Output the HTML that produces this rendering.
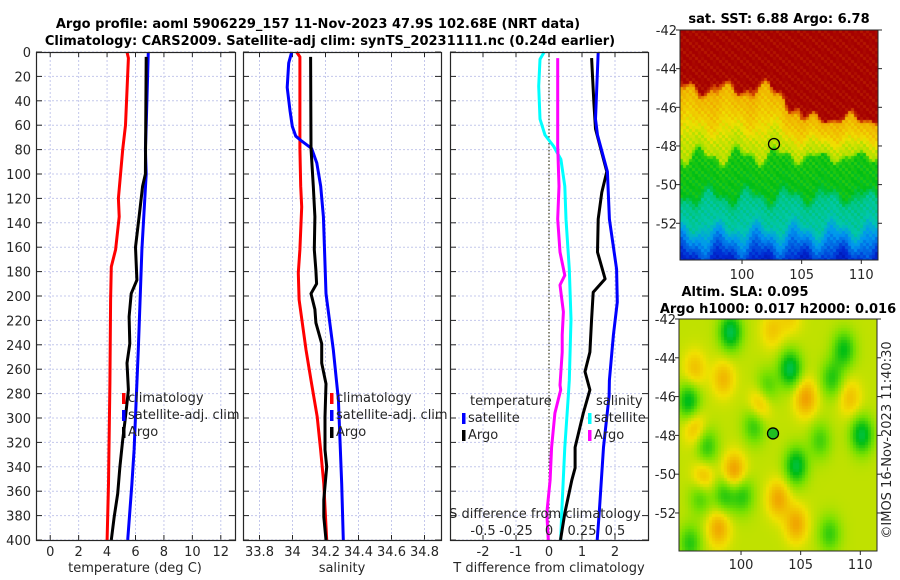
<!DOCTYPE html>
<html><head><meta charset="utf-8">
<style>
body{margin:0;background:#fff;}
#wrap{position:relative;width:900px;height:580px;overflow:hidden;background:#fff;font-family:"DejaVu Sans","Liberation Sans",sans-serif;}
svg text{font-family:"DejaVu Sans","Liberation Sans",sans-serif;}
canvas{position:absolute;}
</style></head>
<body>
<div id="wrap">
<canvas id="sst" width="198" height="230" style="left:680px;top:30px;"></canvas>
<canvas id="sla" width="198" height="232" style="left:679px;top:319px;"></canvas>
<svg id="svg" width="900" height="580" style="position:absolute;left:0;top:0"></svg>
</div>
<script>
// ---- data ----
const tClimDepth=[0,5,60,80,120,135,162,176,203,272,354,400];
const tClimVal=[5.4,5.5,5.3,5.1,4.8,4.85,4.6,4.3,4.25,4.2,4.1,4.0];
const tSatDepth=[0,60,80,100,162,244,326,354,400];
const tSatVal=[6.9,6.75,6.7,6.75,6.45,6.2,5.9,5.75,5.45];
const tArgoDepth=[4,100,110,135,160,187,198,217,239,255,277,299,318,340,362,381,400];
const tArgoVal=[6.75,6.7,6.5,6.25,6.0,6.1,5.7,5.55,5.6,5.4,5.5,5.3,5.1,4.9,4.75,4.5,4.3];
const sClimDepth=[0,4,79,110,127,162,181,203,244,272,299,326,354,400];
const sClimVal=[34.025,34.045,34.045,34.05,34.056,34.045,34.035,34.04,34.082,34.116,34.15,34.17,34.19,34.207];
const sSatDepth=[0,9,29,48,61,69,73,79,91,110,135,198,244,285,354,400];
const sSatVal=[33.995,33.977,33.968,33.985,33.999,34.02,34.056,34.116,34.147,34.171,34.187,34.203,34.247,34.278,34.298,34.308];
const sArgoDepth=[4,79,110,135,162,179,190,198,211,222,239,255,272,299,326,340,367,381,400];
const sArgoVal=[34.11,34.112,34.126,34.136,34.132,34.142,34.146,34.112,34.136,34.142,34.177,34.177,34.203,34.197,34.197,34.207,34.19,34.19,34.203];
const dTSatDepth=[0,55,68,98,137,178,205,232,269,282,324,378,400];
const dTSatVal=[1.49,1.41,1.47,1.77,1.83,2.05,2.07,1.95,1.83,1.82,1.65,1.52,1.46];
const dTArgoDepth=[5,42,63,98,115,137,164,186,197,219,246,262,277,296,324,341,351,378,400];
const dTArgoVal=[1.29,1.36,1.41,1.75,1.6,1.49,1.47,1.7,1.34,1.29,1.24,1.09,1.24,1.04,0.79,0.79,0.69,0.48,0.35];
const dSSatDepth=[0,6,28,55,68,77,88,110,137,178,219,269,282,324,378,400];
const dSSatVal=[-0.036,-0.068,-0.078,-0.068,-0.03,0.033,0.09,0.12,0.129,0.154,0.167,0.154,0.146,0.12,0.096,0.089];
const dSArgoDepth=[5,77,110,137,164,183,191,213,232,246,273,277,296,324,351,378,400];
const dSArgoVal=[0.066,0.066,0.076,0.066,0.083,0.12,0.083,0.109,0.1,0.1,0.083,0.089,0.045,0.02,0.008,-0.017,-0.005];
const depthTicks=[0,20,40,60,80,100,120,140,160,180,200,220,240,260,280,300,320,340,360,380,400];
const tTicks=[0,2,4,6,8,10,12];
const sTicks=[33.8,34,34.2,34.4,34.6,34.8];
const dTicks=[-2,-1,0,1,2];
const dSTicks=[-0.5,-0.25,0,0.25,0.5];
const dSTickLabels=["-0.5","-0.25","0","0.25","0.5"];
const slaLon=[99,104,95.5,110,101,104.5,98.5,96.5,100,99.3,105.3,101.5,96,98,103,104.5,102,107.5,107.3,96.7,96,98.4,109,95.6,102.5,104,108.5,97,106.5];
const slaLat=[-42.6,-44.5,-46.2,-47.9,-47.4,-49.5,-51,-51,-51,-49.8,-46,-46.3,-47.5,-52.7,-51.2,-52.5,-45.5,-45,-53,-50.2,-44.5,-45,-46,-53.5,-42.5,-41.8,-43.5,-48.5,-48.2];
const slaAmp=[-1.6,-1.6,-1.4,-1.5,-1,-1.5,-1,-1,-1,1.2,1.1,1.0,0.8,1.0,1.0,1.0,-0.9,-1,-0.9,1,0.7,0.8,0.7,-1,0.6,0.5,-1.2,-1,-0.8];

// ---- helpers ----
const NS="http://www.w3.org/2000/svg";
const svg=document.getElementById('svg');
function mk(tag,attrs,parent){const e=document.createElementNS(NS,tag);for(const k in attrs)e.setAttribute(k,attrs[k]);(parent||svg).appendChild(e);return e;}
function txt(x,y,s,opt){const e=mk('text',Object.assign({x:x,y:y,'font-size':13,fill:'#262626'},opt||{}));e.textContent=s;return e;}
const Y0=52,Y1=540;
const yD=d=>Y0+(d/400)*(Y1-Y0);
function panel(x0,x1,xmin,xmax,name){
  const xs=v=>x0+(v-xmin)/(xmax-xmin)*(x1-x0);
  const g=mk('g',{});
  
  
  return {x0,x1,xs,g};
}
function grid(p,ticks){
  ticks.forEach(t=>{const x=p.xs(t);const l=mk('line',{x1:x,x2:x,y1:Y0,y2:Y1,stroke:'#c4c8ec','stroke-width':1,'stroke-dasharray':'2,2'},p.g);
    
    mk('line',{x1:x,x2:x,y1:Y1,y2:Y1-5,stroke:'#262626'},p.g);mk('line',{x1:x,x2:x,y1:Y0,y2:Y0+5,stroke:'#262626'},p.g);});
  depthTicks.forEach(d=>{const y=yD(d);const l=mk('line',{x1:p.x0,x2:p.x1,y1:y,y2:y,stroke:'#c4c8ec','stroke-width':1,'stroke-dasharray':'2,2'},p.g);
    
    mk('line',{x1:p.x0,x2:p.x0+6,y1:y,y2:y,stroke:'#262626'},p.g);mk('line',{x1:p.x1,x2:p.x1-6,y1:y,y2:y,stroke:'#262626'},p.g);});
}
function frame(p){const r=mk('rect',{x:p.x0+0.5,y:Y0+0.5,width:p.x1-p.x0,height:Y1-Y0,fill:'none',stroke:'#262626','stroke-width':1.2},p.g);
  }
function line(p,depths,vals,xs,color,name){
  const pts=depths.map((d,i)=>xs(vals[i]).toFixed(1)+','+yD(d).toFixed(1)).join(' ');
  const l=mk('polyline',{points:pts,fill:'none',stroke:color,'stroke-width':3,'stroke-linejoin':'round'},p.g);
  
}
function legendEntry(p,x,y,color,label,name){
  mk('rect',{x:x,y:y-9,width:3.5,height:11,fill:color},p.g);
  const t=txt(x+6,y,label,{});
  p.g.appendChild(t);
  
}

let t1=txt(318,28,'Argo profile: aoml 5906229_157 11-Nov-2023 47.9S 102.68E (NRT data)',{'font-weight':'bold','text-anchor':'middle',fill:'#000'});

let t2=txt(330,45,'Climatology: CARS2009. Satellite-adj clim: synTS_20231111.nc (0.24d earlier)',{'font-weight':'bold','text-anchor':'middle',fill:'#000'});


const p1=panel(36,235,-1,13,'temperature-panel');
grid(p1,tTicks);
line(p1,tClimDepth,tClimVal,p1.xs,'#ff0000','temp-climatology-line');
line(p1,tSatDepth,tSatVal,p1.xs,'#0000ff','temp-satellite-line');
line(p1,tArgoDepth,tArgoVal,p1.xs,'#000000','temp-argo-line');
frame(p1);
depthTicks.forEach(d=>{const t=txt(31,yD(d)+5,String(d),{'text-anchor':'end'});});
tTicks.forEach(v=>{const t=txt(p1.xs(v),556,String(v),{'text-anchor':'middle'});});
let xt1=txt(135,572,'temperature (deg C)',{'text-anchor':'middle'});
legendEntry(p1,122,402,'#ff0000','climatology','legend-climatology');
legendEntry(p1,122,419,'#0000ff','satellite-adj. clim','legend-satellite-adj');
legendEntry(p1,122,436,'#000000','Argo','legend-argo');

const p2=panel(243,441,33.7,34.9,'salinity-panel');
grid(p2,sTicks);
line(p2,sClimDepth,sClimVal,p2.xs,'#ff0000','sal-climatology-line');
line(p2,sSatDepth,sSatVal,p2.xs,'#0000ff','sal-satellite-line');
line(p2,sArgoDepth,sArgoVal,p2.xs,'#000000','sal-argo-line');
frame(p2);
sTicks.forEach(v=>{const t=txt(p2.xs(v),556,String(v),{'text-anchor':'middle'});});
let xt2=txt(342,572,'salinity',{'text-anchor':'middle'});
legendEntry(p2,330,402,'#ff0000','climatology','legend-climatology');
legendEntry(p2,330,419,'#0000ff','satellite-adj. clim','legend-satellite-adj');
legendEntry(p2,330,436,'#000000','Argo','legend-argo');

const p3=panel(450,648,-3,3,'difference-panel');
const xsS=v=>p3.xs(v*4);
grid(p3,dTicks);
let zl=mk('line',{x1:p3.xs(0),x2:p3.xs(0),y1:Y0,y2:Y1,stroke:'#404020','stroke-width':1.2,'stroke-dasharray':'1.5,2'},p3.g);

line(p3,dSSatDepth,dSSatVal,xsS,'#00ffff','sdiff-satellite-line');
line(p3,dSArgoDepth,dSArgoVal,xsS,'#ff00ff','sdiff-argo-line');
line(p3,dTArgoDepth,dTArgoVal,p3.xs,'#000000','tdiff-argo-line');
line(p3,dTSatDepth,dTSatVal,p3.xs,'#0000ff','tdiff-satellite-line');
frame(p3);
dTicks.forEach(v=>{const t=txt(p3.xs(v),556,String(v),{'text-anchor':'middle'});});
let xt3=txt(549,572,'T difference from climatology',{'text-anchor':'middle'});
let st=txt(545,518,'S difference from climatology',{'text-anchor':'middle'});
dSTicks.forEach((v,i)=>{const t=txt(xsS(v),535,dSTickLabels[i],{'text-anchor':'middle'});});
let lt=txt(470,405,'temperature',{});
legendEntry(p3,462,422,'#0000ff','satellite','legend-t-satellite');
legendEntry(p3,462,439,'#000000','Argo','legend-t-argo');
let ls=txt(596,405,'salinity',{});
legendEntry(p3,588,422,'#00ffff','satellite','legend-s-satellite');
legendEntry(p3,588,439,'#ff00ff','Argo','legend-s-argo');

// ---- maps ----
const latTicks=[-42,-44,-46,-48,-50,-52];
const lonTicks=[100,105,110];
function mapAxes(x0,y0,w,h,lon0,lon1,lat0,lat1,tickY,name){
  const g=mk('g',{});
  const lx=v=>x0+(v-lon0)/(lon1-lon0)*w, ly=v=>y0+(lat1-v)/(lat1-lat0)*h;
  mk('rect',{x:x0,y:y0,width:w,height:h,fill:'none',stroke:'#262626','stroke-width':1},g);
  latTicks.forEach(v=>{const y=ly(v);mk('line',{x1:x0-4,x2:x0,y1:y,y2:y,stroke:'#262626'},g);mk('line',{x1:x0+w,x2:x0+w+4,y1:y,y2:y,stroke:'#262626'},g);
    const t=txt(x0-3,y+5,String(v),{'text-anchor':'end'});g.appendChild(t);});
  lonTicks.forEach(v=>{const x=lx(v);mk('line',{x1:x,x2:x,y1:y0+h,y2:y0+h+4,stroke:'#262626'},g);
    const t=txt(x,tickY,String(v),{'text-anchor':'middle'});g.appendChild(t);});
  return {lx,ly};
}
const m1=mapAxes(680,30,198,230,94.8,111.4,-53.9,-42,279,'sst-map-axes');
const m2=mapAxes(679,319,198,232,94.8,111.4,-53.96,-42,569,'sla-map-axes');
let c1=mk('circle',{cx:m1.lx(102.68),cy:m1.ly(-47.9),r:5.5,fill:'none',stroke:'#000','stroke-width':1.3});

let c2=mk('circle',{cx:m2.lx(102.68),cy:m2.ly(-47.9),r:5.5,fill:'#20c020',stroke:'#000','stroke-width':1.3});

let mt1=txt(779,23,'sat. SST: 6.88 Argo: 6.78',{'font-weight':'bold','text-anchor':'middle',fill:'#000'});
let mt2=txt(745,296,'Altim. SLA: 0.095',{'font-weight':'bold','text-anchor':'middle',fill:'#000'});
let mt3=txt(778,313,'Argo h1000: 0.017 h2000: 0.016',{'font-weight':'bold','text-anchor':'middle',fill:'#000'});
let cr=txt(0,0,'©IMOS 16-Nov-2023 11:40:30',{'text-anchor':'middle',transform:'translate(891,440) rotate(-90)'});

const cmStops=[[0,[0,0,140]],[0.15,[0,40,210]],[0.3,[0,150,240]],[0.42,[0,200,170]],[0.55,[0,190,20]],[0.65,[120,225,0]],[0.75,[240,225,0]],[0.85,[240,160,0]],[0.93,[210,70,0]],[1,[165,0,0]]];
function cmap(v){v=Math.max(0,Math.min(1,v));for(let i=1;i<cmStops.length;i++){if(v<=cmStops[i][0]){const a=cmStops[i-1],b=cmStops[i];const f=(v-a[0])/(b[0]-a[0]);return a[1].map((c,k)=>Math.round(c+(b[1][k]-c)*f));}}return cmStops[cmStops.length-1][1];}
const sstLat=[-42,-44.8,-45.2,-46.5,-47.5,-48.3,-48.6,-50.3,-50.8,-52,-52.5,-53.3,-54];
const sstVal=[1,1,0.82,0.78,0.72,0.7,0.57,0.55,0.45,0.42,0.33,0.22,0.12];
function interp(xa,ya,x){for(let i=1;i<xa.length;i++){if(x>=xa[i]){const f=(x-xa[i-1])/(xa[i]-xa[i-1]);return ya[i-1]+(ya[i]-ya[i-1])*f;}}return ya[ya.length-1];}
(function(){const ctx=document.getElementById('sst').getContext('2d');const cs=3;
 for(let py=0;py<230;py+=cs)for(let px=0;px<198;px+=cs){
  const lon=94.8+px/198*16.6, lat=-42-py/230*11.9;
  const east=Math.max(0,Math.min(1,(lon-103)/2));
  const w=Math.max(0,Math.min(1,(lat+48.5)/2));
  const latEff=lat+1.6*east*w+0.35*Math.sin(lon*1.9+lat*0.7)+0.2*Math.sin(lon*4.1-lat*1.3);
  let v=interp(sstLat,sstVal,latEff)+0.025*Math.sin(px*0.9+py*1.3);
  const c=cmap(v);ctx.fillStyle='rgb('+c+')';ctx.fillRect(px,py,cs,cs);}
})();
(function(){const ctx=document.getElementById('sla').getContext('2d');const cs=3;
 for(let py=0;py<232;py+=cs)for(let px=0;px<198;px+=cs){
  const lon=94.8+px/198*16.6, lat=-42-py/232*11.96;
  let v=0.71;
  for(let i=0;i<slaLon.length;i++){const dx=lon-slaLon[i],dy=lat-slaLat[i];v+=0.13*slaAmp[i]*Math.exp(-(dx*dx+dy*dy)/0.9);}
  const c=cmap(v);ctx.fillStyle='rgb('+c+')';ctx.fillRect(px,py,cs,cs);}
})();
</script>
</body></html>
